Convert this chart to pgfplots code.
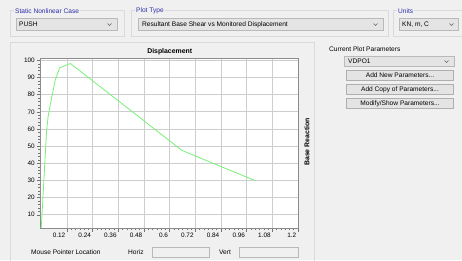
\documentclass[border=0pt]{standalone}
\usepackage{pgfplots}
\pgfplotsset{compat=1.18}
\usepackage{fontspec}
\setmainfont{Liberation Sans}
\definecolor{bg}{RGB}{240,240,240}
\definecolor{framec}{RGB}{218,218,218}
\definecolor{ttl}{RGB}{45,45,170}
\definecolor{ddfill}{RGB}{228,228,228}
\definecolor{ddline}{RGB}{185,185,185}
\definecolor{btnline}{RGB}{175,175,175}
\definecolor{curve}{RGB}{120,240,120}
\definecolor{gridc}{RGB}{205,205,205}
\begin{document}
\begin{tikzpicture}[x=1pt,y=-1pt,font=\fontsize{6.6}{7.5}\selectfont]
\useasboundingbox (0,0) rectangle (462,260);
\fill[bg] (0,0) rectangle (462,260);
% ---- top group boxes
\draw[framec] (10.5,10.5) rectangle (124.5,36.5);
\node[fill=bg,inner sep=1pt,anchor=west,text=ttl] at (14,11) {Static Nonlinear Case};
\draw[ddline,fill=ddfill] (16.5,18.5) rectangle (117.5,30.5);
\node[anchor=west,inner sep=0pt] at (19,24.5) {PUSH};
\draw[black!60] (107.5,23.5)--(109.5,25.5)--(111.5,23.5);
\draw[framec] (131.5,10.5) rectangle (388.5,36.5);
\node[fill=bg,inner sep=1pt,anchor=west,text=ttl] at (135,11) {Plot Type};
\draw[ddline,fill=ddfill] (138.5,18.5) rectangle (383.5,30.5);
\node[anchor=west,inner sep=0pt] at (142,24.5) {Resultant Base Shear vs Monitored Displacement};
\draw[black!60] (373.5,23.5)--(375.5,25.5)--(377.5,23.5);
\draw[framec] (393.5,10.5) rectangle (465,36.5);
\node[fill=bg,inner sep=1pt,anchor=west,text=ttl] at (397,11) {Units};
\draw[ddline,fill=ddfill] (399.5,18.5) rectangle (458.5,30.5);
\node[anchor=west,inner sep=0pt] at (402,24.5) {KN, m, C};
\draw[black!60] (449.5,23.5)--(451.5,25.5)--(453.5,23.5);
% ---- main panel
\draw[framec] (10.5,42.5) rectangle (314.5,265);
\node[font=\fontsize{6.9}{8}\selectfont\bfseries] at (169.7,51.7) {Displacement};
\node[font=\fontsize{6.9}{8}\selectfont\bfseries,rotate=90] at (307,142) {Base Reaction};
% ---- right panel
\node[anchor=west,inner sep=0pt] at (329,49.5) {Current Plot Parameters};
\draw[ddline,fill=ddfill] (344.5,56.5) rectangle (454.5,66.5);
\node[anchor=west,inner sep=0pt] at (348,61.5) {VDPO1};
\draw[black!60] (444.5,60.5)--(446.5,62.5)--(448.5,60.5);
\draw[btnline,fill=ddfill] (346.5,70.5) rectangle (453.5,80.5);
\node at (400,75.5) {Add New Parameters...};
\draw[btnline,fill=ddfill] (346.5,84.5) rectangle (453.5,94.5);
\node at (400,89.5) {Add Copy of Parameters...};
\draw[btnline,fill=ddfill] (346.5,98.5) rectangle (453.5,108.5);
\node at (400,103.5) {Modify/Show Parameters...};
% ---- bottom
\node[anchor=west,inner sep=0pt] at (31,252) {Mouse Pointer Location};
\node[anchor=west,inner sep=0pt] at (128,252) {Horiz};
\draw[ddline,fill=bg] (152.5,247.5) rectangle (209.5,257.5);
\node[anchor=west,inner sep=0pt] at (219,252) {Vert};
\draw[ddline,fill=bg] (239.5,247.5) rectangle (298.5,257.5);
% ---- chart
\begin{axis}[
  at={(40pt,-228pt)}, anchor=south west,
  width=258pt, height=169.5pt, scale only axis,
  xmin=-0.006, xmax=1.2, ymin=2.3, ymax=101.1,
  axis background/.style={fill=white},
  axis line style={draw=black!45},
  xtick={0.12,0.24,0.36,0.48,0.6,0.72,0.84,0.96,1.08,1.2},
  xticklabels={0.12,0.24,0.36,0.48,0.6,0.72,0.84,0.96,1.08,1.2},
  ytick={10,20,30,40,50,60,70,80,90,100},
  yticklabels={10,20,30,40,50,60,70,80,90,100},
  minor x tick num=5, minor y tick num=4,
  xtick pos=bottom, ytick pos=left,
  tick align=outside,
  major tick length=3.5pt, minor tick length=2pt,
  every tick/.style={black!55, line width=0.5pt},
  grid=major,
  major grid style={draw=gridc, line width=0.9pt},
  minor grid style={draw=none},
  xticklabel style={anchor=north east, font=\fontsize{6.4}{7}\selectfont, inner sep=1.5pt},
  yticklabel style={font=\fontsize{6.4}{7}\selectfont, inner sep=1.5pt},
  clip=true,
]
\addplot[curve, line width=0.8pt] coordinates {
(0,2.4) (0.0246,58.6) (0.032,67.4) (0.048,78.1) (0.066,88.8)
(0.086,95.7) (0.136,98.2) (0.658,47.5) (0.998,30.0)
};
\end{axis}
\end{tikzpicture}
\end{document}
